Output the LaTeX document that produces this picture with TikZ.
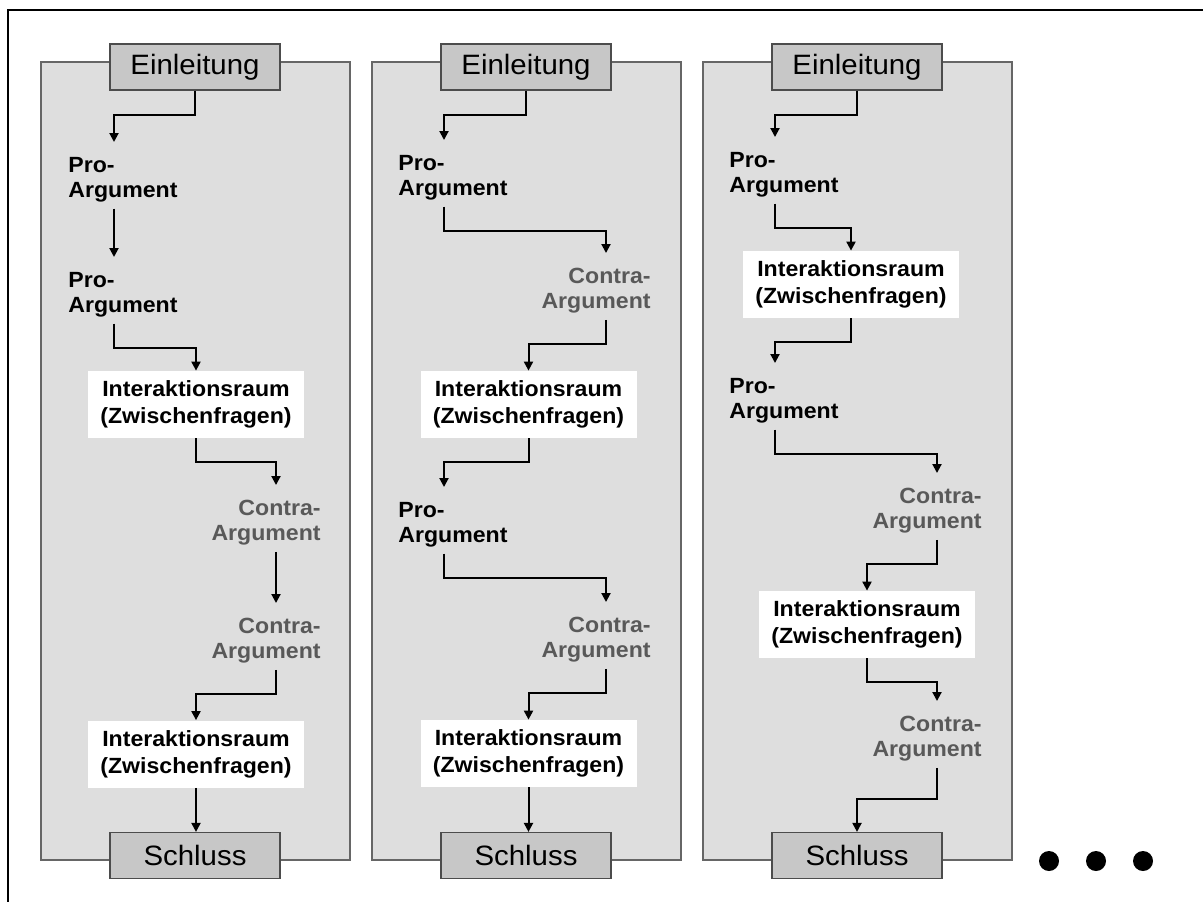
\documentclass[tikz,border=0pt]{standalone}
\usepackage{fontspec}
\setmainfont{Liberation Sans}[FakeStretch=1.05]
\usetikzlibrary{arrows.meta}

\tikzset{
	panel/.style={fill=black!13, draw=black!60, line width=0.6pt},
	endbox/.style={draw=black!70, fill=black!22, line width=0.6pt, minimum width=85pt,
		minimum height=23pt, inner sep=0pt, font=\fontsize{14}{16}\selectfont},
	talk/.style={fill=white, minimum width=108pt, minimum height=33.5pt, inner sep=0pt,
		align=center, font=\fontsize{11}{13.5}\selectfont\bfseries},
	pro/.style={anchor=north west, inner sep=0pt, align=left,
		font=\fontsize{11}{12.5}\selectfont\bfseries},
	contra/.style={anchor=north east, inner sep=0pt, align=right, text=black!65,
		font=\fontsize{11}{12.5}\selectfont\bfseries},
	flow/.style={line width=1pt, -{Triangle[width=4.5pt,length=4.5pt]}},
	totext/.style={shorten >=7.5pt},
	fromtext/.style={shorten <=3pt}
}

\begin{document}
\begin{tikzpicture}[x=0.5pt, y=-0.5pt]
	\useasboundingbox (0,0) rectangle (1203,902);

	% Frame
	\draw[line width=1pt] (1203,10) -- (8,10) -- (8,902);

	% Panels with Einleitung and Schluss
	\foreach \L/\n in {41/1, 372/2, 703/3} {
		\draw[panel] (\L,62) rectangle ++(309,798);
		\node[endbox] (e\n) at (\L+154,67) {Einleitung};
		\node[endbox] (s\n) at (\L+154,855.5) {Schluss};
	}

	% Column 1
	\node[pro] (p11) at (68,157) {Pro-\\Argument};
	\node[pro] (p12) at (68,272) {Pro-\\Argument};
	\node[talk] (i11) at (196,404.5) {Interaktionsraum\\(Zwischenfragen)};
	\node[contra] (c11) at (321,500) {Contra-\\Argument};
	\node[contra] (c12) at (321,618) {Contra-\\Argument};
	\node[talk] (i12) at (196,754) {Interaktionsraum\\(Zwischenfragen)};

	\draw[flow, totext] (e1.south) -- ++(0,24) -| ([xshift=23pt]p11.north west);
	\draw[flow, fromtext, totext] ([xshift=23pt]p11.south west) -- ([xshift=23pt]p12.north west);
	\draw[flow, fromtext] ([xshift=23pt]p12.south west) -- ++(0,30) -| (i11.north);
	\draw[flow, totext] (i11.south) -- ++(0,24) -| ([xshift=-22.5pt]c11.north east);
	\draw[flow, fromtext, totext] ([xshift=-22.5pt]c11.south east) -- ([xshift=-22.5pt]c12.north east);
	\draw[flow, fromtext] ([xshift=-22.5pt]c12.south east) -- ++(0,30) -| (i12.north);
	\draw[flow] (i12.south) -- (i12.south |- s1.north);

	% Column 2
	\node[pro] (p21) at (398,155) {Pro-\\Argument};
	\node[contra] (c21) at (651,268) {Contra-\\Argument};
	\node[talk] (i21) at (528.5,404.5) {Interaktionsraum\\(Zwischenfragen)};
	\node[pro] (p22) at (398,502) {Pro-\\Argument};
	\node[contra] (c22) at (651,617) {Contra-\\Argument};
	\node[talk] (i22) at (528.5,753.5) {Interaktionsraum\\(Zwischenfragen)};

	\draw[flow, totext] (e2.south) -- ++(0,24) -| ([xshift=23pt]p21.north west);
	\draw[flow, fromtext, totext] ([xshift=23pt]p21.south west) -- ++(0,30) -| ([xshift=-22.5pt]c21.north east);
	\draw[flow, fromtext] ([xshift=-22.5pt]c21.south east) -- ++(0,30) -| (i21.north);
	\draw[flow, totext] (i21.south) -- ++(0,24) -| ([xshift=23pt]p22.north west);
	\draw[flow, fromtext, totext] ([xshift=23pt]p22.south west) -- ++(0,30) -| ([xshift=-22.5pt]c22.north east);
	\draw[flow, fromtext] ([xshift=-22.5pt]c22.south east) -- ++(0,30) -| (i22.north);
	\draw[flow] (i22.south) -- (i22.south |- s2.north);

	% Column 3
	\node[pro] (p31) at (729,152) {Pro-\\Argument};
	\node[talk] (i31) at (851,284.5) {Interaktionsraum\\(Zwischenfragen)};
	\node[pro] (p32) at (729,378) {Pro-\\Argument};
	\node[contra] (c31) at (982,488) {Contra-\\Argument};
	\node[talk] (i32) at (867,624.5) {Interaktionsraum\\(Zwischenfragen)};
	\node[contra] (c32) at (982,716) {Contra-\\Argument};

	\draw[flow, totext] (e3.south) -- ++(0,24) -| ([xshift=23pt]p31.north west);
	\draw[flow, fromtext] ([xshift=23pt]p31.south west) -- ++(0,30) -| (i31.north);
	\draw[flow, totext] (i31.south) -- ++(0,24) -| ([xshift=23pt]p32.north west);
	\draw[flow, fromtext, totext] ([xshift=23pt]p32.south west) -- ++(0,30) -| ([xshift=-22.5pt]c31.north east);
	\draw[flow, fromtext] ([xshift=-22.5pt]c31.south east) -- ++(0,30) -| (i32.north);
	\draw[flow, totext] (i32.south) -- ++(0,24) -| ([xshift=-22.5pt]c32.north east);
	\draw[flow, fromtext] ([xshift=-22.5pt]c32.south east) -- ++(0,37) -| (s3.north);

	% Dots
	\foreach \x in {1049, 1096, 1143}
		\fill (\x,861) circle[radius=5pt];
\end{tikzpicture}
\end{document}
